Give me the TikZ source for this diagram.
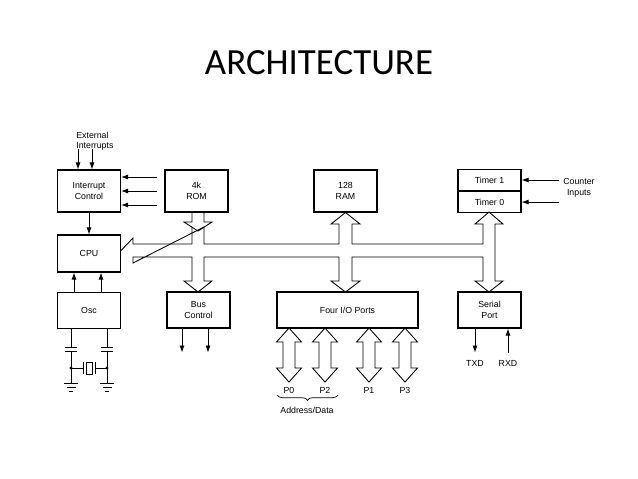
\documentclass[tikz,border=0pt]{standalone}
\usepackage{fontspec}
\setmainfont{Liberation Sans}
\newfontfamily\titlefont{Carlito}
\usetikzlibrary{arrows.meta,positioning,calc,decorations.pathreplacing}

\begin{document}
\begin{tikzpicture}[x=0.02cm, y=-0.02cm, >={Latex[length=1.4mm,width=1mm]},
  blk/.style={draw, line width=0.6pt, minimum width=1.26cm, minimum height=0.84cm,
    font=\fontsize{5}{6}\selectfont, align=center, inner sep=0pt},
  lbl/.style={font=\fontsize{5}{6}\selectfont, align=center, inner sep=0pt},
  sig/.style={->, line width=0.5pt},
  bus/.style={line width=0.5pt, line join=miter}]
  \useasboundingbox (0,0) rectangle (638,478);

  % titel
  \node[font=\titlefont\fontsize{21}{24}\selectfont, anchor=base] at (319,74) {ARCHITECTURE};

  % blokken
  \node[blk] (intc) at (89,191) {Interrupt\\Control};
  \node[blk] (rom)  at (196.5,191) {4k\\ROM};
  \node[blk] (ram)  at (345.5,191) {128\\RAM};
  \node[blk, minimum height=0.42cm] (tim1) at (489.5,180) {Timer 1};
  \node[blk, minimum height=0.42cm, below=0pt of tim1] (tim0) {Timer 0};
  \node[blk, minimum height=0.74cm] (cpu) at (89,253.5) {CPU};
  \node[blk, minimum height=0.72cm] (osc) at (89,310.5) {Osc};
  \node[blk, minimum height=0.72cm] (busc) at (198.5,310) {Bus\\Control};
  \node[blk, minimum width=2.82cm, minimum height=0.72cm] (io) at (347.5,310) {Four I/O Ports};
  \node[blk, minimum height=0.72cm] (ser) at (489.5,310) {Serial\\Port};

  % signalen
  \node[lbl, align=left, anchor=south west] (ext) at (76,151) {External\\Interrupts};
  \draw[sig] ([xshift=-0.22cm,yshift=0.4cm]intc.north) -- ([xshift=-0.22cm]intc.north);
  \draw[sig] ([xshift=0.06cm,yshift=0.4cm]intc.north) -- ([xshift=0.06cm]intc.north);
  \foreach \dy in {-0.28,0,0.28}
    \draw[sig] ([xshift=0.72cm,yshift=\dy cm]intc.east) -- ([yshift=\dy cm]intc.east);
  \draw[sig] (intc) -- (cpu);
  \draw[sig] ([xshift=-0.3cm]osc.north) -- ([xshift=-0.3cm]cpu.south);
  \draw[sig] ([xshift=0.24cm]osc.north) -- ([xshift=0.24cm]cpu.south);
  \foreach \dx in {-0.33,0.19}
    \draw[sig] ([xshift=\dx cm]busc.south) -- ++(0,24);
  \draw[sig] ([xshift=-0.29cm]ser.south) -- ++(0,24) node[lbl, below=4pt] (txd) {TXD};
  \draw[sig] ([xshift=0.37cm,yshift=-0.48cm]ser.south) node[lbl, below=4pt] (rxd) {RXD}
    -- ([xshift=0.37cm]ser.south);
  \node[lbl] (cnt) at (579,188) {Counter\\Inputs};
  \draw[sig] (tim1.east -| cnt.west) ++(-4,0) -- (tim1.east);
  \draw[sig] (tim0.east -| cnt.west) ++(-4,0) -- (tim0.east);

  % interne bus
  \draw[bus] (121,250.5) -- (133,238) -- (133,244) -- (192,244) -- (192,227);
  \draw[bus] (192,212) -- (192,222) -- (184,222) -- (198,231) -- (212,222) -- (204,222) -- (204,212);
  \draw[bus] (204,227) -- (204,244) -- (339,244) -- (339,224) -- (331,224) -- (345.5,212.5)
    -- (360,224) -- (352,224) -- (352,244) -- (483,244) -- (483,224) -- (475,224) -- (489,212)
    -- (503,224) -- (495,224) -- (495,281) -- (503,281) -- (489,292) -- (475,281) -- (483,281)
    -- (483,257) -- (352,257) -- (352,281) -- (360,281) -- (345.5,292) -- (331,281) -- (339,281)
    -- (339,257) -- (204,257) -- (204,281) -- (212,281) -- (198,292) -- (184,281) -- (192,281)
    -- (192,257) -- (133,257) -- (133,263) -- cycle;

  % poorten
  \foreach \px/\nm in {289/P0,325/P2,369/P1,405/P3}{
    \draw[bus] (\px,328) -- (\px+12.5,342) -- (\px+6,342) -- (\px+6,368) -- (\px+12.5,368)
      -- (\px,382) -- (\px-12.5,368) -- (\px-6,368) -- (\px-6,342) -- (\px-12.5,342) -- cycle;
    \node[lbl] (\nm) at (\px,390) {\nm};
  }
  \draw[decorate, decoration={brace, amplitude=3pt, mirror}, line width=0.4pt]
    (277,395) -- (338,395) coordinate[pos=0.5] (bm);
  \node[lbl] (adr) at (307,410) {Address/Data};

  % oscillator
  \foreach \cx in {71,107}{
    \draw[line width=0.5pt] (\cx,328) -- (\cx,347) (\cx-6,347) -- (\cx+6,347)
      (\cx-6,351) -- (\cx+6,351) (\cx,351) -- (\cx,383)
      (\cx-7,383) -- (\cx+7,383) (\cx-4.5,387) -- (\cx+4.5,387) (\cx-2,391) -- (\cx+2,391);
    \fill (\cx,368) circle (1.6);
  }
  \draw[line width=0.5pt] (71,368) -- (83,368) (83,362) -- (83,374) (95,362) -- (95,374)
    (95,368) -- (107,368) (86,362) rectangle (92,374);
\end{tikzpicture}
\end{document}
